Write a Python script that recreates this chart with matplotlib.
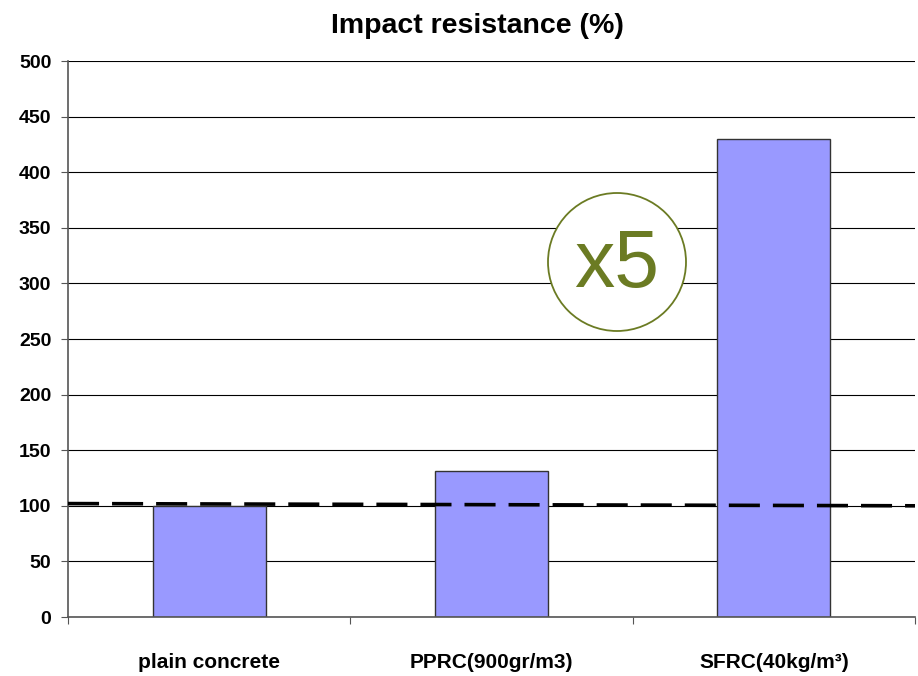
import matplotlib
matplotlib.use("Agg")
import matplotlib.pyplot as plt
from matplotlib.patches import Circle

# data
categories = ["plain concrete", "PPRC(900gr/m3)", "SFRC(40kg/m\u00b3)"]
values = [100, 131, 430]
ref_line = [102, 100]          # dashed reference line, left edge -> right edge
yticks = list(range(0, 501, 50))

plt.rcParams["font.family"] = ["Liberation Sans", "DejaVu Sans"]

fig = plt.figure(figsize=(9.18, 6.76), dpi=100)
ax = fig.add_axes([68 / 918, 59 / 676, 847 / 918, 556 / 676])

x = [i + 0.5 for i in range(len(categories))]
ax.bar(x, values, width=0.4, color="#9999FF", edgecolor="#333333", linewidth=1.0, zorder=2)

ax.plot([0, len(categories)], ref_line, color="black", lw=2.6,
        linestyle=(0, (8.6, 3.6)), zorder=3)

ax.set_xlim(0, len(categories))
ax.set_ylim(0, 500)
ax.set_yticks(yticks)
ax.set_yticklabels([str(v) for v in yticks], fontsize=14, fontweight="bold")
ax.yaxis.grid(True, color="black", lw=0.8, zorder=0)
ax.set_axisbelow(True)

ax.set_xticks(range(len(categories) + 1))
ax.set_xticklabels([])
ax.set_xticks(x, minor=True)
ax.set_xticklabels(categories, minor=True, fontsize=15, fontweight="bold")
ax.tick_params(axis="x", which="minor", length=0, pad=26)
ax.tick_params(axis="x", which="major", length=5, color="#555555", direction="out")
ax.tick_params(axis="y", length=5, color="#555555", pad=7, direction="out")

for s in ["top", "right"]:
    ax.spines[s].set_visible(False)
for s in ["left", "bottom"]:
    ax.spines[s].set_color("#555555")
    ax.spines[s].set_linewidth(1.2)

fig.text(477 / 918, 1 - 26 / 676, "Impact resistance (%)", ha="center", va="center",
         fontsize=20.5, fontweight="bold")

# "x5" badge
green = "#6B7B23"
circ = Circle((6.17, 6.76 - 2.62), 0.69, transform=fig.dpi_scale_trans,
              facecolor="white", edgecolor=green, lw=1.3, zorder=5)
fig.add_artist(circ)
fig.text(617 / 918, 1 - 266 / 676, "x5", ha="center", va="center",
         fontsize=58, color=green, zorder=6)

fig.savefig("out.png", dpi=100)
